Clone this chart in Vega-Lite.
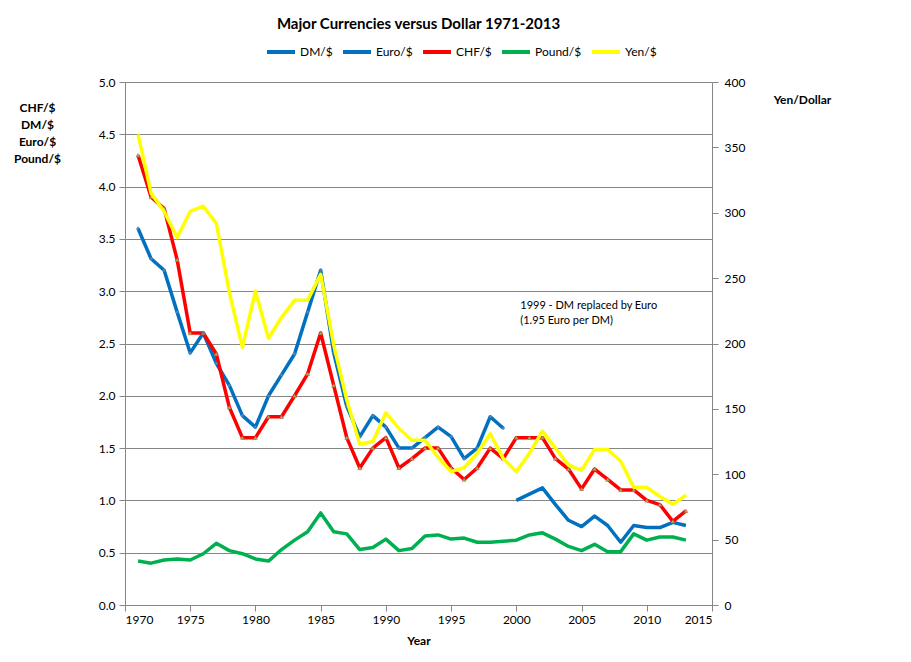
{
  "$schema": "https://vega.github.io/schema/vega-lite/v6.json",
  "width": 587,
  "height": 523,
  "autosize": {"type": "none"},
  "padding": {"left": 125, "top": 82, "right": 199, "bottom": 57},
  "background": "white",
  "title": {"text": "Major Currencies versus Dollar 1971-2013", "fontSize": 15, "fontWeight": "bold", "font": "Lato", "color": "#000", "anchor": "middle", "offset": 4},
  "datasets": {
    "fx": [
      {"year": 1971, "series": "DM/$", "value": 3.60}, {"year": 1972, "series": "DM/$", "value": 3.31}, {"year": 1973, "series": "DM/$", "value": 3.20}, {"year": 1974, "series": "DM/$", "value": 2.80}, {"year": 1975, "series": "DM/$", "value": 2.41}, {"year": 1976, "series": "DM/$", "value": 2.60}, {"year": 1977, "series": "DM/$", "value": 2.31}, {"year": 1978, "series": "DM/$", "value": 2.10}, {"year": 1979, "series": "DM/$", "value": 1.81}, {"year": 1980, "series": "DM/$", "value": 1.70}, {"year": 1981, "series": "DM/$", "value": 2.00}, {"year": 1982, "series": "DM/$", "value": 2.20}, {"year": 1983, "series": "DM/$", "value": 2.40}, {"year": 1984, "series": "DM/$", "value": 2.80}, {"year": 1985, "series": "DM/$", "value": 3.20}, {"year": 1986, "series": "DM/$", "value": 2.41}, {"year": 1987, "series": "DM/$", "value": 1.90}, {"year": 1988, "series": "DM/$", "value": 1.61}, {"year": 1989, "series": "DM/$", "value": 1.81}, {"year": 1990, "series": "DM/$", "value": 1.70}, {"year": 1991, "series": "DM/$", "value": 1.50}, {"year": 1992, "series": "DM/$", "value": 1.50}, {"year": 1993, "series": "DM/$", "value": 1.60}, {"year": 1994, "series": "DM/$", "value": 1.70}, {"year": 1995, "series": "DM/$", "value": 1.61}, {"year": 1996, "series": "DM/$", "value": 1.40}, {"year": 1997, "series": "DM/$", "value": 1.50}, {"year": 1998, "series": "DM/$", "value": 1.80}, {"year": 1999, "series": "DM/$", "value": 1.69},
      {"year": 2000, "series": "Euro/$", "value": 1.00}, {"year": 2001, "series": "Euro/$", "value": 1.06}, {"year": 2002, "series": "Euro/$", "value": 1.12}, {"year": 2003, "series": "Euro/$", "value": 0.96}, {"year": 2004, "series": "Euro/$", "value": 0.81}, {"year": 2005, "series": "Euro/$", "value": 0.75}, {"year": 2006, "series": "Euro/$", "value": 0.85}, {"year": 2007, "series": "Euro/$", "value": 0.76}, {"year": 2008, "series": "Euro/$", "value": 0.60}, {"year": 2009, "series": "Euro/$", "value": 0.76}, {"year": 2010, "series": "Euro/$", "value": 0.74}, {"year": 2011, "series": "Euro/$", "value": 0.74}, {"year": 2012, "series": "Euro/$", "value": 0.79}, {"year": 2013, "series": "Euro/$", "value": 0.76},
      {"year": 1971, "series": "CHF/$", "value": 4.30}, {"year": 1972, "series": "CHF/$", "value": 3.90}, {"year": 1973, "series": "CHF/$", "value": 3.79}, {"year": 1974, "series": "CHF/$", "value": 3.30}, {"year": 1975, "series": "CHF/$", "value": 2.60}, {"year": 1976, "series": "CHF/$", "value": 2.60}, {"year": 1977, "series": "CHF/$", "value": 2.40}, {"year": 1978, "series": "CHF/$", "value": 1.89}, {"year": 1979, "series": "CHF/$", "value": 1.60}, {"year": 1980, "series": "CHF/$", "value": 1.60}, {"year": 1981, "series": "CHF/$", "value": 1.80}, {"year": 1982, "series": "CHF/$", "value": 1.80}, {"year": 1983, "series": "CHF/$", "value": 2.00}, {"year": 1984, "series": "CHF/$", "value": 2.21}, {"year": 1985, "series": "CHF/$", "value": 2.60}, {"year": 1986, "series": "CHF/$", "value": 2.10}, {"year": 1987, "series": "CHF/$", "value": 1.60}, {"year": 1988, "series": "CHF/$", "value": 1.31}, {"year": 1989, "series": "CHF/$", "value": 1.50}, {"year": 1990, "series": "CHF/$", "value": 1.60}, {"year": 1991, "series": "CHF/$", "value": 1.31}, {"year": 1992, "series": "CHF/$", "value": 1.40}, {"year": 1993, "series": "CHF/$", "value": 1.50}, {"year": 1994, "series": "CHF/$", "value": 1.50}, {"year": 1995, "series": "CHF/$", "value": 1.31}, {"year": 1996, "series": "CHF/$", "value": 1.20}, {"year": 1997, "series": "CHF/$", "value": 1.31}, {"year": 1998, "series": "CHF/$", "value": 1.50}, {"year": 1999, "series": "CHF/$", "value": 1.40}, {"year": 2000, "series": "CHF/$", "value": 1.60}, {"year": 2001, "series": "CHF/$", "value": 1.60}, {"year": 2002, "series": "CHF/$", "value": 1.60}, {"year": 2003, "series": "CHF/$", "value": 1.40}, {"year": 2004, "series": "CHF/$", "value": 1.30}, {"year": 2005, "series": "CHF/$", "value": 1.11}, {"year": 2006, "series": "CHF/$", "value": 1.30}, {"year": 2007, "series": "CHF/$", "value": 1.20}, {"year": 2008, "series": "CHF/$", "value": 1.10}, {"year": 2009, "series": "CHF/$", "value": 1.10}, {"year": 2010, "series": "CHF/$", "value": 1.00}, {"year": 2011, "series": "CHF/$", "value": 0.96}, {"year": 2012, "series": "CHF/$", "value": 0.80}, {"year": 2013, "series": "CHF/$", "value": 0.90},
      {"year": 1971, "series": "Pound/$", "value": 0.42}, {"year": 1972, "series": "Pound/$", "value": 0.40}, {"year": 1973, "series": "Pound/$", "value": 0.43}, {"year": 1974, "series": "Pound/$", "value": 0.44}, {"year": 1975, "series": "Pound/$", "value": 0.43}, {"year": 1976, "series": "Pound/$", "value": 0.49}, {"year": 1977, "series": "Pound/$", "value": 0.59}, {"year": 1978, "series": "Pound/$", "value": 0.52}, {"year": 1979, "series": "Pound/$", "value": 0.49}, {"year": 1980, "series": "Pound/$", "value": 0.44}, {"year": 1981, "series": "Pound/$", "value": 0.42}, {"year": 1982, "series": "Pound/$", "value": 0.53}, {"year": 1983, "series": "Pound/$", "value": 0.62}, {"year": 1984, "series": "Pound/$", "value": 0.70}, {"year": 1985, "series": "Pound/$", "value": 0.88}, {"year": 1986, "series": "Pound/$", "value": 0.70}, {"year": 1987, "series": "Pound/$", "value": 0.68}, {"year": 1988, "series": "Pound/$", "value": 0.53}, {"year": 1989, "series": "Pound/$", "value": 0.55}, {"year": 1990, "series": "Pound/$", "value": 0.63}, {"year": 1991, "series": "Pound/$", "value": 0.52}, {"year": 1992, "series": "Pound/$", "value": 0.54}, {"year": 1993, "series": "Pound/$", "value": 0.66}, {"year": 1994, "series": "Pound/$", "value": 0.67}, {"year": 1995, "series": "Pound/$", "value": 0.63}, {"year": 1996, "series": "Pound/$", "value": 0.64}, {"year": 1997, "series": "Pound/$", "value": 0.60}, {"year": 1998, "series": "Pound/$", "value": 0.60}, {"year": 1999, "series": "Pound/$", "value": 0.61}, {"year": 2000, "series": "Pound/$", "value": 0.62}, {"year": 2001, "series": "Pound/$", "value": 0.67}, {"year": 2002, "series": "Pound/$", "value": 0.69}, {"year": 2003, "series": "Pound/$", "value": 0.63}, {"year": 2004, "series": "Pound/$", "value": 0.56}, {"year": 2005, "series": "Pound/$", "value": 0.52}, {"year": 2006, "series": "Pound/$", "value": 0.58}, {"year": 2007, "series": "Pound/$", "value": 0.51}, {"year": 2008, "series": "Pound/$", "value": 0.51}, {"year": 2009, "series": "Pound/$", "value": 0.68}, {"year": 2010, "series": "Pound/$", "value": 0.62}, {"year": 2011, "series": "Pound/$", "value": 0.65}, {"year": 2012, "series": "Pound/$", "value": 0.65}, {"year": 2013, "series": "Pound/$", "value": 0.62},
      {"year": 1971, "series": "Yen/$", "value": 360}, {"year": 1972, "series": "Yen/$", "value": 315}, {"year": 1973, "series": "Yen/$", "value": 301}, {"year": 1974, "series": "Yen/$", "value": 281}, {"year": 1975, "series": "Yen/$", "value": 301}, {"year": 1976, "series": "Yen/$", "value": 305}, {"year": 1977, "series": "Yen/$", "value": 292}, {"year": 1978, "series": "Yen/$", "value": 239}, {"year": 1979, "series": "Yen/$", "value": 197}, {"year": 1980, "series": "Yen/$", "value": 240}, {"year": 1981, "series": "Yen/$", "value": 204}, {"year": 1982, "series": "Yen/$", "value": 220}, {"year": 1983, "series": "Yen/$", "value": 233}, {"year": 1984, "series": "Yen/$", "value": 233}, {"year": 1985, "series": "Yen/$", "value": 253}, {"year": 1986, "series": "Yen/$", "value": 199}, {"year": 1987, "series": "Yen/$", "value": 157}, {"year": 1988, "series": "Yen/$", "value": 123}, {"year": 1989, "series": "Yen/$", "value": 125}, {"year": 1990, "series": "Yen/$", "value": 147}, {"year": 1991, "series": "Yen/$", "value": 135}, {"year": 1992, "series": "Yen/$", "value": 126}, {"year": 1993, "series": "Yen/$", "value": 126}, {"year": 1994, "series": "Yen/$", "value": 113}, {"year": 1995, "series": "Yen/$", "value": 102}, {"year": 1996, "series": "Yen/$", "value": 105}, {"year": 1997, "series": "Yen/$", "value": 116}, {"year": 1998, "series": "Yen/$", "value": 131}, {"year": 1999, "series": "Yen/$", "value": 112}, {"year": 2000, "series": "Yen/$", "value": 102}, {"year": 2001, "series": "Yen/$", "value": 116}, {"year": 2002, "series": "Yen/$", "value": 133}, {"year": 2003, "series": "Yen/$", "value": 120}, {"year": 2004, "series": "Yen/$", "value": 107}, {"year": 2005, "series": "Yen/$", "value": 103}, {"year": 2006, "series": "Yen/$", "value": 119}, {"year": 2007, "series": "Yen/$", "value": 119}, {"year": 2008, "series": "Yen/$", "value": 110}, {"year": 2009, "series": "Yen/$", "value": 90}, {"year": 2010, "series": "Yen/$", "value": 90}, {"year": 2011, "series": "Yen/$", "value": 83}, {"year": 2012, "series": "Yen/$", "value": 77}, {"year": 2013, "series": "Yen/$", "value": 84}
    ]
  },
  "data": {"name": "fx"},
  "encoding": {
    "x": {"field": "year", "type": "quantitative",
      "scale": {"domain": [1970, 2015], "nice": false, "zero": false},
      "axis": {"values": [1970, 1975, 1980, 1985, 1990, 1995, 2000, 2005, 2010, 2015], "format": "d", "grid": false, "title": "Year", "titlePadding": 10, "labelPadding": 3}}
  },
  "layer": [
    {
      "layer": [
        {
          "transform": [{"filter": "datum.series != 'Yen/$'"}],
          "mark": {"type": "line", "strokeWidth": 3.5, "strokeJoin": "round"},
          "encoding": {
            "y": {"field": "value", "type": "quantitative",
              "scale": {"domain": [0, 5], "nice": false},
              "axis": {"orient": "left", "values": [0, 0.5, 1, 1.5, 2, 2.5, 3, 3.5, 4, 4.5, 5], "format": ".1f", "grid": true,
                "title": ["CHF/$", "DM/$", "Euro/$", "Pound/$"], "titleAngle": 0, "titleAlign": "center", "titleBaseline": "top",
                "titleX": -88, "titleY": 20, "titleLineHeight": 17, "labelPadding": 4}},
            "color": {"field": "series", "type": "nominal",
              "scale": {"domain": ["DM/$", "Euro/$", "CHF/$", "Pound/$", "Yen/$"], "range": ["#0070C0", "#0070C0", "#FF0000", "#00B050", "#FFFF00"]},
              "legend": {"title": null}},
            "detail": {"field": "series"}
          }
        },
        {
          "transform": [{"filter": "datum.series == 'CHF/$'"}],
          "mark": {"type": "point", "shape": "triangle-up", "filled": true, "fill": "#9BBB59", "stroke": "#C0504D", "strokeWidth": 0.5, "size": 16, "opacity": 1},
          "encoding": {"y": {"field": "value", "type": "quantitative"}}
        },
        {
          "transform": [{"filter": "datum.series == 'DM/$'"}],
          "mark": {"type": "point", "shape": "diamond", "filled": true, "color": "#4F81BD", "size": 14, "opacity": 1},
          "encoding": {"y": {"field": "value", "type": "quantitative"}}
        },
        {
          "transform": [{"filter": "datum.series == 'DM/$' && datum.year == 1999"}],
          "mark": {"type": "text", "text": ["1999 - DM replaced by Euro", " (1.95 Euro per DM)"], "align": "left", "baseline": "top", "fontSize": 11, "lineHeight": 15, "font": "Lato", "color": "#000"},
          "encoding": {"x": {"datum": 2000.3}, "y": {"datum": 2.92}}
        }
      ]
    },
    {
      "transform": [{"filter": "datum.series == 'Yen/$'"}],
      "mark": {"type": "line", "strokeWidth": 3.5, "strokeJoin": "round"},
      "encoding": {
        "y": {"field": "value", "type": "quantitative",
          "scale": {"domain": [0, 400], "nice": false},
          "axis": {"orient": "right", "values": [0, 50, 100, 150, 200, 250, 300, 350, 400], "grid": false,
            "title": "Yen/Dollar", "titleAngle": 0, "titleAlign": "center", "titleBaseline": "top", "titleX": 90, "titleY": 12, "labelPadding": 6}},
        "color": {"field": "series", "type": "nominal",
          "scale": {"domain": ["DM/$", "Euro/$", "CHF/$", "Pound/$", "Yen/$"], "range": ["#0070C0", "#0070C0", "#FF0000", "#00B050", "#FFFF00"]},
          "legend": {"title": null}}
      }
    }
  ],
  "resolve": {"scale": {"y": "independent"}},
  "config": {
    "font": "Lato",
    "view": {"stroke": null},
    "axis": {"domainColor": "#868686", "tickColor": "#868686", "gridColor": "#868686", "gridWidth": 1, "domainWidth": 1, "tickWidth": 1, "tickSize": 6,
      "labelColor": "#000", "labelFont": "Lato", "labelFontSize": 12, "titleFont": "Lato", "titleFontSize": 12, "titleFontWeight": "bold", "titleColor": "#000"},
    "legend": {"orient": "none", "legendX": 140, "legendY": -46, "direction": "horizontal", "symbolType": "stroke", "symbolSize": 784, "symbolStrokeWidth": 4,
      "labelFont": "Lato", "labelFontSize": 12, "labelColor": "#000", "labelOffset": 3, "columnPadding": 2, "padding": 0}
  }
}
